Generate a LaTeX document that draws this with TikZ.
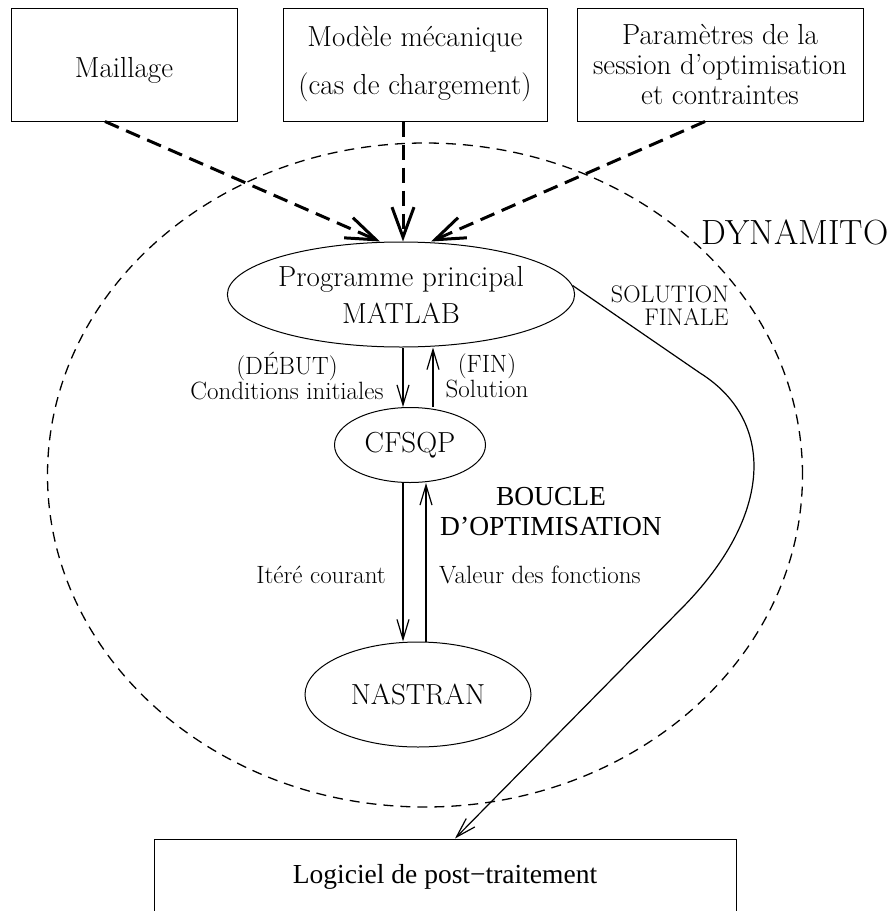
\documentclass[tikz,border=0pt]{standalone}
\usepackage{fontspec}
\newfontfamily\timesfont{Liberation Serif}
\usetikzlibrary{shapes.geometric,arrows.meta}
\newcommand\boxfont{\fontsize{29}{30}\selectfont}
\newcommand\lblfont{\fontsize{25}{22}\selectfont}
\newcommand\tmsfont{\timesfont\fontsize{27.5}{30}\selectfont}
\begin{document}
\begin{tikzpicture}[x=1pt,y=-1pt,
	box/.style={draw,line width=1pt,inner sep=0pt,align=center,font=\boxfont},
	entete/.style={box,execute at begin node={\rule{0pt}{32pt}}},
	bulle/.style={draw,ellipse,line width=1pt,inner sep=0pt,align=center,font=\boxfont},
	fleche/.style={line width=1.2pt,-{Straight Barb[length=20pt,width=12pt]}},
	entree/.style={line width=3pt,dash pattern=on 15pt off 8pt,-{Straight Barb[length=30pt,width=22pt]}},
	lbl/.style={font=\lblfont,inner sep=0pt,align=center}]
	\useasboundingbox (0,0) rectangle (891,911);
	\clip (0,0) rectangle (891,911);
	% donnees d'entree
	\node[entete,minimum width=226pt,minimum height=113pt] (maillage) at (124,64.5) {Maillage};
	\node[entete,minimum width=264pt,minimum height=113pt] (modele) at (415,64.5) {Modèle mécanique\\[18pt](cas de chargement)};
	\node[entete,minimum width=286pt,minimum height=113pt] (param) at (720,64.5) {Paramètres de la\\session d'optimisation\\et contraintes};
	% DYNAMITO
	\node[draw,ellipse,dash pattern=on 10pt off 7pt,line width=1.3pt,minimum width=755pt,minimum height=664pt,inner sep=0pt] (dynamito) at (425,475) {};
	\node[font=\fontsize{35}{35}\selectfont,inner sep=0pt] (nom) at (795,232) {DYNAMITO};
	\node[bulle,minimum width=328pt,minimum height=105pt] (matlab) at (401,294.5) {Programme principal\\[7pt]MATLAB};
	\node[bulle,minimum width=151pt,minimum height=75pt] (cfsqp) at (410,445) {CFSQP};
	\node[bulle,minimum width=226pt,minimum height=105pt] (nastran) at (418,694.5) {NASTRAN};
	\node[box,font=\tmsfont,minimum width=582pt,minimum height=76pt] (post) at (445,877) {Logiciel de post−traitement};
	% etiquettes
	\node[lbl] (debut) at (287,376) {(DÉBUT)\\Conditions initiales};
	\node[lbl] (fin) at (487,376) {(FIN)\\Solution};
	\node[lbl,font=\tmsfont] (boucle) at (551,512) {BOUCLE\\D’OPTIMISATION};
	\node[lbl,anchor=east] (itere) at (386,575) {Itéré courant};
	\node[lbl,anchor=west] (valeur) at (439,575) {Valeur des fonctions};
	\node[lbl,font=\fontsize{24}{23}\selectfont,align=right,anchor=east] (solfin) at (729,306) {SOLUTION\\FINALE};
	% fleches
	\draw[entree] ([xshift=-19pt]maillage.south) -- ([xshift=-21pt]matlab.north);
	\draw[entree] ([xshift=-12pt]modele.south) -- ([xshift=2pt]matlab.north);
	\draw[entree] ([xshift=-15pt]param.south) -- ([xshift=30pt]matlab.north);
	\draw[fleche] ([xshift=2pt]matlab.south) -- ([xshift=-7pt]cfsqp.north);
	\draw[fleche] ([xshift=23pt]cfsqp.north) -- ([xshift=32pt]matlab.south);
	\draw[fleche] ([xshift=-7pt]cfsqp.south) -- ([xshift=-15pt]nastran.north);
	\draw[fleche] ([xshift=8pt]nastran.north) -- ([xshift=16pt]cfsqp.south);
	\draw[fleche] (matlab.3) -- (700,373) .. controls (775,420) and (775,515) .. (680,610) -- ([xshift=10pt]post.north);
\end{tikzpicture}
\end{document}
